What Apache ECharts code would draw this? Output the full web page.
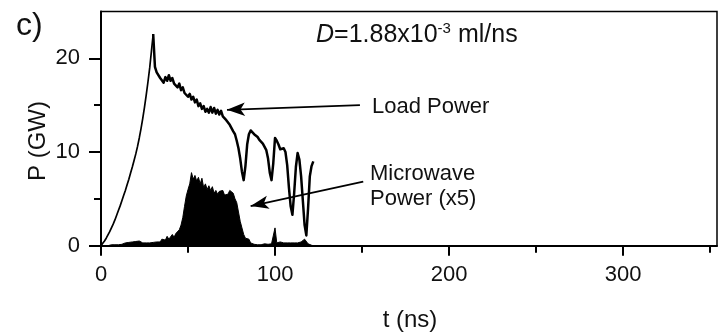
<!DOCTYPE html>
<html>
<head>
<meta charset="utf-8">
<script src="https://cdn.jsdelivr.net/npm/echarts@6/dist/echarts.min.js"></script>
<style>
  html, body { margin: 0; padding: 0; background: #fff; }
  #chart { width: 718px; height: 334px; }
</style>
</head>
<body>
<div id="chart"></div>
<script>
// Sampling grid in ns (1 ns steps)
const timeNs = Array.from({ length: 123 }, (_, i) => i);

// Load power, GW
const loadPower = [
  0, 0.25, 0.5, 0.8, 1.15, 1.5, 1.9, 2.3, 2.75, 3.25,
  3.75, 4.25, 4.8, 5.35, 5.9, 6.5, 7.1, 7.75, 8.4, 9.1,
  9.8, 10.6, 11.5, 12.5, 13.6, 14.8, 16.1, 17.5, 19.0, 20.8,
  22.6, 19.1, 18.5, 18.6, 17.9, 17.9, 17.4, 18.0, 17.6, 18.2,
  17.6, 17.9, 17.3, 17.5, 16.9, 17.3, 16.6, 16.9, 16.3, 16.5,
  15.9, 16.2, 15.6, 15.9, 15.3, 15.6, 14.9, 15.2, 14.6, 14.9,
  14.3, 14.6, 14.2, 14.8, 14.2, 14.7, 14.1, 14.5, 14.0, 14.4,
  13.8, 13.9, 13.4, 13.4, 12.9, 12.8, 12.2, 11.9, 11.2, 10.4,
  9.3, 7.9, 7.0, 8.5, 10.8, 11.9, 12.3, 12.2, 11.9, 11.7,
  11.6, 11.3, 11.1, 10.9, 10.7, 10.2, 9.3, 7.8, 7.0, 8.8,
  11.5, 11.2, 10.8, 10.3, 10.1, 10.4, 10.0, 8.6, 6.2, 4.2,
  3.3, 5.6, 8.4, 9.9, 9.2, 7.4, 4.8, 2.2, 1.1, 4.0,
  7.4, 8.5, 9.0
];
// Index of the load power peak; the rise before it is drawn with a thinner trace
const loadPeakIndex = 30;

// Microwave power (x5), GW
const microwavePower = [
  0, 0, 0, 0, 0, 0.05, 0.1, 0.05, 0.1, 0.15,
  0.1, 0.2, 0.15, 0.2, 0.3, 0.2, 0.35, 0.3, 0.4, 0.3,
  0.45, 0.35, 0.5, 0.4, 0.3, 0.25, 0.3, 0.2, 0.3, 0.25,
  0.35, 0.3, 0.4, 0.5, 0.4, 0.7, 0.9, 0.6, 1.0, 0.7,
  0.9, 1.2, 0.9, 1.3, 1.4, 1.7, 2.2, 3.0, 4.2, 5.3,
  6.0, 6.6, 7.8, 7.1, 7.5, 6.9, 7.3, 6.6, 7.2, 6.2,
  6.6, 6.0, 6.4, 5.9, 6.3, 5.6, 5.9, 5.5, 5.8, 5.6,
  5.9, 5.4, 5.6, 5.5, 5.9, 5.8, 5.6, 5.0, 4.6, 3.6,
  2.6, 1.9, 1.2, 0.8, 0.6, 0.7, 0.3, 0.2, 0.15, 0.1,
  0.1, 0.15, 0.1, 0.1, 0.2, 0.1, 0.15, 0.1, 0.2, 0.3,
  1.9, 0.3, 0.2, 0.4, 0.2, 0.3, 0.2, 0.3, 0.2, 0.3,
  0.25, 0.3, 0.2, 0.3, 0.3, 0.4, 0.5, 0.7, 0.5, 0.2,
  0.1, 0.05, 0
];

// Axis ticks
const xTickValues = [0, 100, 200, 300];
const xMinorTickValues = [50, 150, 250, 350];
const yTickValues = [0, 10, 20];
const yMinorTickValues = [5, 15];

// Callout arrows [from, to] in data units (t, P)
const loadArrow = [[148.8, 15.0], [72.4, 14.5]];
const microwaveArrow = [[150.7, 6.83], [86.0, 4.23]];

const FONT = '"Liberation Sans", Arial, sans-serif';
const INK = '#111';
const X_MAX = 354;
const Y_MAX = 25;

const pairs = (ys, from, to) =>
  timeNs.slice(from, to).map((t, i) => [t, ys[from + i]]);

const arrowLine = (a) => [
  { coord: a[0], symbol: 'none' },
  { coord: a[1], symbol: 'arrow', symbolSize: [10, 18] }
];

const chart = echarts.init(document.getElementById('chart'), null, { renderer: 'canvas' });

chart.setOption({
  animation: false,
  backgroundColor: '#fff',
  grid: {
    left: 101, top: 11.5, right: 1, bottom: 88.3,
    show: true, borderColor: '#000', borderWidth: 1.5, backgroundColor: 'transparent'
  },
  xAxis: [
    {
      type: 'value', min: 0, max: X_MAX, interval: 100, position: 'bottom',
      axisLine: { lineStyle: { color: '#000', width: 2 } },
      axisTick: { customValues: xTickValues, length: 10, lineStyle: { color: '#000', width: 2 } },
      axisLabel: { customValues: xTickValues, fontSize: 22, color: INK, fontFamily: FONT, margin: 18 },
      splitLine: { show: false }
    },
    {
      type: 'value', min: 0, max: X_MAX, position: 'bottom',
      axisLine: { show: false },
      axisTick: { customValues: xMinorTickValues, length: 7, lineStyle: { color: '#000', width: 2 } },
      axisLabel: { show: false },
      splitLine: { show: false }
    }
  ],
  yAxis: [
    {
      type: 'value', min: 0, max: Y_MAX, interval: 10, position: 'left',
      axisLine: { show: true, lineStyle: { color: '#000', width: 2 } },
      axisTick: { show: true, customValues: yTickValues, length: 12, lineStyle: { color: '#000', width: 2 } },
      axisLabel: { customValues: yTickValues, fontSize: 22, color: INK, fontFamily: FONT, margin: 21 },
      splitLine: { show: false }
    },
    {
      type: 'value', min: 0, max: Y_MAX, position: 'left',
      axisLine: { show: false },
      axisTick: { show: true, customValues: yMinorTickValues, length: 7, lineStyle: { color: '#000', width: 2 } },
      axisLabel: { show: false },
      splitLine: { show: false }
    }
  ],
  series: [
    {
      name: 'Microwave Power (x5)',
      type: 'line',
      data: pairs(microwavePower, 0, timeNs.length),
      showSymbol: false,
      lineStyle: { color: '#000', width: 1 },
      areaStyle: { color: '#000', opacity: 1 },
      z: 2,
      markLine: {
        silent: true,
        symbol: ['none', 'arrow'],
        label: { show: false },
        lineStyle: { color: '#000', width: 1.8, type: 'solid' },
        data: [arrowLine(loadArrow), arrowLine(microwaveArrow)]
      }
    },
    {
      name: 'Load Power',
      type: 'line',
      data: pairs(loadPower, 0, loadPeakIndex + 1),
      showSymbol: false,
      lineStyle: { color: '#000', width: 1.7 },
      z: 3
    },
    {
      name: 'Load Power',
      type: 'line',
      data: pairs(loadPower, loadPeakIndex, timeNs.length),
      showSymbol: false,
      lineStyle: { color: '#000', width: 2.5, join: 'round' },
      z: 3
    }
  ],
  graphic: [
    {
      type: 'text', x: 16, y: 26,
      style: { text: 'c)', fontSize: 32, fontFamily: FONT, fill: INK, verticalAlign: 'middle' }
    },
    {
      type: 'text', x: 38, y: 141, rotation: Math.PI / 2,
      style: { text: 'P (GW)', fontSize: 24, fontFamily: FONT, fill: INK, align: 'center', verticalAlign: 'middle' }
    },
    {
      type: 'text', x: 410, y: 320,
      style: { text: 't (ns)', fontSize: 24, fontFamily: FONT, fill: INK, align: 'center', verticalAlign: 'middle' }
    },
    {
      type: 'text', x: 316, y: 35,
      style: {
        text: '{i|D}=1.88x10{s|-3} ml/ns',
        fontSize: 25, fontFamily: FONT, fill: INK, verticalAlign: 'middle',
        rich: {
          i: { fontStyle: 'italic', fontSize: 25, fontFamily: FONT, fill: INK },
          s: { fontSize: 15, fontFamily: FONT, fill: INK, padding: [0, 0, 12, 0] }
        }
      }
    },
    {
      type: 'text', x: 372, y: 107,
      style: { text: 'Load Power', fontSize: 22, fontFamily: FONT, fill: INK, verticalAlign: 'middle' }
    },
    {
      type: 'text', x: 370, y: 186,
      style: { text: 'Microwave\nPower (x5)', fontSize: 22, lineHeight: 25, fontFamily: FONT, fill: INK, verticalAlign: 'middle' }
    }
  ]
});
</script>
</body>
</html>
